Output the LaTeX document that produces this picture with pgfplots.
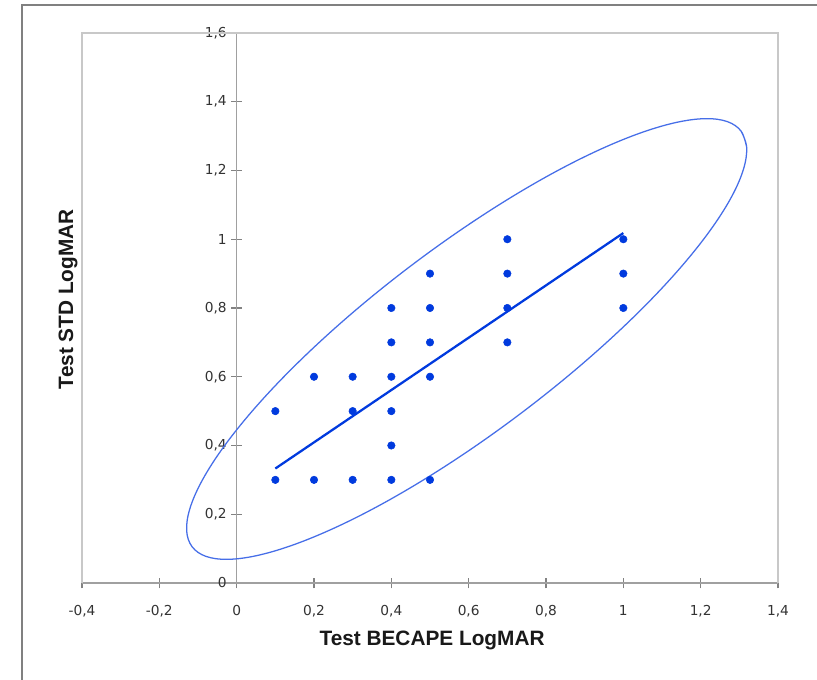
\documentclass[border=0pt]{standalone}
\usepackage{pgfplots}
\pgfplotsset{compat=1.18}
\usepackage{fontspec}
\setmainfont{Liberation Sans}
\newfontfamily\tickfont{DejaVu Sans}
\definecolor{dotblue}{RGB}{0,58,222}
\definecolor{ellblue}{RGB}{70,110,232}
\definecolor{axgray}{RGB}{160,160,160}
\definecolor{tickgray}{RGB}{130,130,130}
\definecolor{framegray}{RGB}{200,200,200}
\definecolor{outergray}{RGB}{128,128,128}
\begin{document}
\begin{tikzpicture}
\useasboundingbox (0,0) rectangle (612.75pt,510pt);
\fill[white] (0,0) rectangle (612.75pt,510pt);
\draw[outergray, line width=0.8pt] (16.5pt,-2pt) -- (16.5pt,506.25pt) -- (620pt,506.25pt);
\begin{axis}[
  at={(61.5pt,72.75pt)}, anchor=south west,
  scale only axis, width=522pt, height=412.5pt,
  xmin=-0.4, xmax=1.4, ymin=0, ymax=1.6,
  axis lines=middle,
  axis line style={axgray, line width=1.1pt, -},
  xtick={-0.4,-0.2,0,0.2,0.4,0.6,0.8,1,1.2,1.4},
  ytick={0,0.2,0.4,0.6,0.8,1,1.2,1.4,1.6},
  tick align=center, major tick length=8pt,
  tick style={tickgray, line width=1pt},
  hide obscured x ticks=false, hide obscured y ticks=false,
  /pgf/number format/use comma,
  /pgf/number format/fixed,
  /pgf/number format/assume math mode=true,
  ticklabel style={font=\tickfont\fontsize{10.3}{12}\selectfont, text=black!80},
  xticklabel style={anchor=north, yshift=-9pt},
  yticklabel style={anchor=east, xshift=0pt},
  xlabel={Test BECAPE LogMAR},
  ylabel={Test STD LogMAR},
  label style={font=\fontsize{15.6}{18}\selectfont\bfseries, text=black!90},
  xlabel style={at={(axis description cs:0.503,-0.1036)}, anchor=center},
  ylabel style={at={(axis description cs:-0.0201,0.516)}, anchor=center, rotate=90},
  clip=false,
]
\draw[framegray, line width=1.2pt] (rel axis cs:0,0) -- (rel axis cs:0,1) -- (rel axis cs:1,1) -- (rel axis cs:1,0);
% confidence ellipse
\addplot[ellblue, line width=0.95pt, smooth, tension=0.6] coordinates {
(1.3047,1.3143) (1.3189,1.2681) (1.3110,1.2049) (1.2814,1.1266) (1.2309,1.0357)
(1.1611,0.9349) (1.0741,0.8272) (0.9725,0.7160) (0.8595,0.6046) (0.7384,0.4964)
(0.6130,0.3947) (0.4869,0.3025) (0.3642,0.2227) (0.2485,0.1578) (0.1433,0.1096)
(0.0518,0.0796) (-0.0232,0.0688) (-0.0794,0.0774) (-0.1151,0.1053) (-0.1293,0.1515)
(-0.1214,0.2148) (-0.0918,0.2930) (-0.0413,0.3839) (0.0285,0.4847) (0.1155,0.5924)
(0.2171,0.7036) (0.3301,0.8150) (0.4512,0.9232) (0.5767,1.0249) (0.7027,1.1171)
(0.8254,1.1969) (0.9411,1.2618) (1.0463,1.3100) (1.1378,1.3400) (1.2128,1.3508)
(1.2690,1.3422) (1.3047,1.3143) (1.3189,1.2681)
};
% data points
\addplot[only marks, mark=*, mark size=2.8pt, color=dotblue] coordinates {
(0.1,0.3) (0.1,0.5)
(0.2,0.3) (0.2,0.6)
(0.3,0.3) (0.3,0.5) (0.3,0.6)
(0.4,0.3) (0.4,0.4) (0.4,0.5) (0.4,0.6) (0.4,0.7) (0.4,0.8)
(0.5,0.3) (0.5,0.6) (0.5,0.7) (0.5,0.8) (0.5,0.9)
(0.7,0.7) (0.7,0.8) (0.7,0.9) (0.7,1.0)
(1.0,0.8) (1.0,0.9) (1.0,1.0)
};
% regression line
\addplot[dotblue, line width=1.7pt] coordinates {(0.1,0.333) (1.0,1.018)};
\end{axis}
\end{tikzpicture}
\end{document}
